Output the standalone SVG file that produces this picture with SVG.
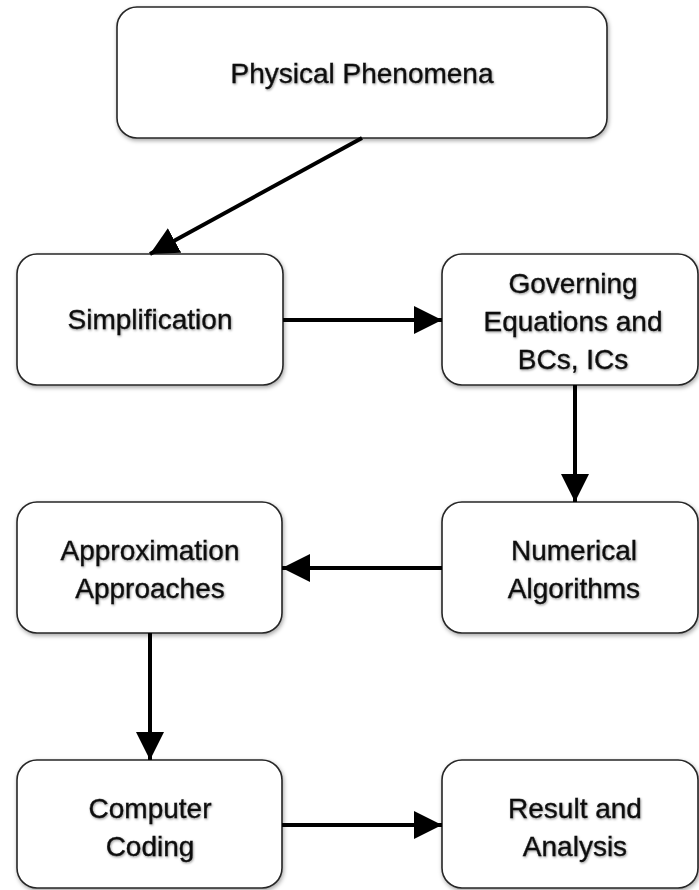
<svg xmlns="http://www.w3.org/2000/svg" width="699" height="890" viewBox="0 0 699 890">
<defs>
<filter id="bs" x="-10%" y="-10%" width="120%" height="130%">
<feDropShadow dx="1" dy="2" stdDeviation="2" flood-color="#000" flood-opacity="0.35"/>
</filter>
<filter id="ts" x="-5%" y="-20%" width="110%" height="150%">
<feDropShadow dx="0.8" dy="1.2" stdDeviation="0.9" flood-color="#000" flood-opacity="0.4"/>
</filter>
<marker id="ah" viewBox="0 0 10 10" refX="10" refY="5" markerWidth="7" markerHeight="7" markerUnits="strokeWidth" orient="auto">
<path d="M0,0 L10,5 L0,10 Z" fill="#000"/>
</marker>
</defs>
<style>
.box{fill:#fff;stroke:#262626;stroke-width:1.6;filter:url(#bs)}
.lbl{font-family:"Liberation Sans",Arial,sans-serif;font-size:28px;fill:#111;stroke:#111;stroke-width:0.35;text-anchor:middle;filter:url(#ts)}
.con{stroke:#000;stroke-width:4;fill:none}
</style>
<rect width="699" height="890" fill="#fff"/>
<g id="n-physical">
<rect class="box" x="117" y="7" width="490" height="131" rx="20"/>
<text class="lbl" x="362" y="83">Physical Phenomena</text>
</g>
<g id="n-simplification">
<rect class="box" x="17" y="254" width="266" height="131" rx="20"/>
<text class="lbl" x="150" y="329">Simplification</text>
</g>
<g id="n-governing">
<rect class="box" x="442" y="254" width="256" height="131" rx="20"/>
<text class="lbl" x="573" y="293">Governing</text>
<text class="lbl" x="573" y="331">Equations and</text>
<text class="lbl" x="573" y="369">BCs, ICs</text>
</g>
<g id="n-numerical">
<rect class="box" x="442" y="502" width="256" height="131" rx="20"/>
<text class="lbl" x="574" y="560">Numerical</text>
<text class="lbl" x="574" y="598">Algorithms</text>
</g>
<g id="n-approximation">
<rect class="box" x="17" y="502" width="265" height="131" rx="20"/>
<text class="lbl" x="150" y="560">Approximation</text>
<text class="lbl" x="150" y="598">Approaches</text>
</g>
<g id="n-computer">
<rect class="box" x="17" y="760" width="265" height="128" rx="20"/>
<text class="lbl" x="150" y="818">Computer</text>
<text class="lbl" x="150" y="856">Coding</text>
</g>
<g id="n-result">
<rect class="box" x="442" y="760" width="256" height="128" rx="20"/>
<text class="lbl" x="575" y="818">Result and</text>
<text class="lbl" x="575" y="856">Analysis</text>
</g>
<g id="connectors">
<line class="con" x1="362" y1="138" x2="150" y2="254" marker-end="url(#ah)"/>
<line class="con" x1="283" y1="320" x2="442" y2="320" marker-end="url(#ah)"/>
<line class="con" x1="575" y1="385" x2="575" y2="502" marker-end="url(#ah)"/>
<line class="con" x1="442" y1="568" x2="282" y2="568" marker-end="url(#ah)"/>
<line class="con" x1="150" y1="633" x2="150" y2="760" marker-end="url(#ah)"/>
<line class="con" x1="282" y1="825" x2="442" y2="825" marker-end="url(#ah)"/>
</g>
</svg>
